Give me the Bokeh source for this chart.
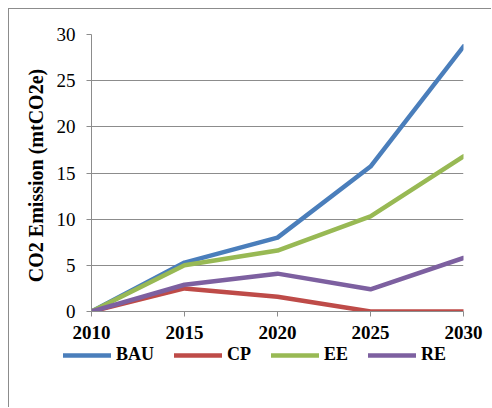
from bokeh.plotting import figure
from bokeh.layouts import column
from bokeh.models import Legend, LegendItem, FixedTicker, Range1d
from bokeh.embed import file_html
from bokeh.resources import INLINE

# Emission pathways per scenario (mtCO2e)
years = [2010, 2015, 2020, 2025, 2030]
bau = [0.0, 5.3, 8.0, 15.7, 28.7]
cp = [0.0, 2.5, 1.6, 0.0, 0.0]
ee = [0.0, 5.0, 6.6, 10.3, 16.8]
re_ = [0.0, 2.9, 4.1, 2.4, 5.8]
y_ticks = [0, 5, 10, 15, 20, 25, 30]

series = [
    ("BAU", bau, "#4a7ebb"),
    ("CP", cp, "#be4b48"),
    ("EE", ee, "#98b954"),
    ("RE", re_, "#7d60a0"),
]

SERIF = "Liberation Serif"
GRAY = "#8c8c8c"
FRAME_LINE = "1px solid #8c8c8c"

# main chart, inside a frame that starts 8px from the page corner
p = figure(width=483, height=338,
           output_backend="svg", toolbar_location=None,
           x_range=Range1d(2010, 2030), y_range=Range1d(0, 30),
           min_border_left=82, min_border_right=29,
           min_border_top=25, min_border_bottom=36,
           margin=(8, 0, 0, 8),
           styles={"border-left": FRAME_LINE, "border-top": FRAME_LINE})

p.outline_line_color = None
p.background_fill_color = "white"
p.border_fill_color = "white"

p.xaxis.ticker = FixedTicker(ticks=years)
p.yaxis.ticker = FixedTicker(ticks=y_ticks)
for ax in (p.xaxis[0], p.yaxis[0]):
    ax.axis_line_color = GRAY
    ax.major_tick_line_color = GRAY
    ax.major_tick_out = 5
    ax.major_tick_in = 0
    ax.minor_tick_line_color = None
    ax.major_label_text_font = SERIF
    ax.major_label_text_font_size = "19px"
    ax.major_label_text_color = "black"
p.xaxis.major_label_text_font_style = "bold"
p.xaxis.major_label_standoff = 9
p.yaxis.major_label_standoff = 11
p.yaxis.axis_label = "CO2 Emission  (mtCO2e)"
p.yaxis.axis_label_text_font = SERIF
p.yaxis.axis_label_text_font_size = "20px"
p.yaxis.axis_label_text_font_style = "bold"
p.yaxis.axis_label_text_color = "black"
p.yaxis.axis_label_standoff = 7

p.xgrid.grid_line_color = None
p.ygrid.grid_line_color = GRAY
p.ygrid.grid_line_width = 1

for name, vals, color in series:
    p.line(years, vals, line_color=color, line_width=4.5,
           line_join="round", line_cap="round")

# legend strip under the chart, same frame continues down its left side
leg = figure(width=483, height=61, output_backend="svg", toolbar_location=None,
             x_axis_type=None, y_axis_type=None,
             x_range=Range1d(0, 1), y_range=Range1d(0, 1),
             min_border_left=0, min_border_right=0,
             min_border_top=0, min_border_bottom=0,
             margin=(0, 0, 0, 8),
             styles={"border-left": FRAME_LINE})
leg.outline_line_color = None
leg.background_fill_color = "white"
leg.border_fill_color = "white"

# keep the strip's frame independent of the chart's frame edges
for fig in (p, leg):
    try:
        fig.frame_align = False
    except AttributeError:
        pass

items = []
for name, vals, color in series:
    # series drawn outside this strip's visible range; only the key shows
    r = leg.line(years, vals, line_color=color, line_width=4.5, line_cap="round")
    items.append(LegendItem(label=name, renderers=[r]))

legend = Legend(items=items, orientation="horizontal",
                location=(54, 42),
                glyph_width=48, glyph_height=20, label_standoff=5, spacing=20,
                padding=0, margin=0, border_line_color=None,
                background_fill_alpha=0,
                label_text_font=SERIF, label_text_font_size="18px",
                label_text_font_style="bold", label_text_color="black")
leg.add_layout(legend, "center")

page = column(p, leg, spacing=0)
open("out.html", "w").write(file_html(page, INLINE))
